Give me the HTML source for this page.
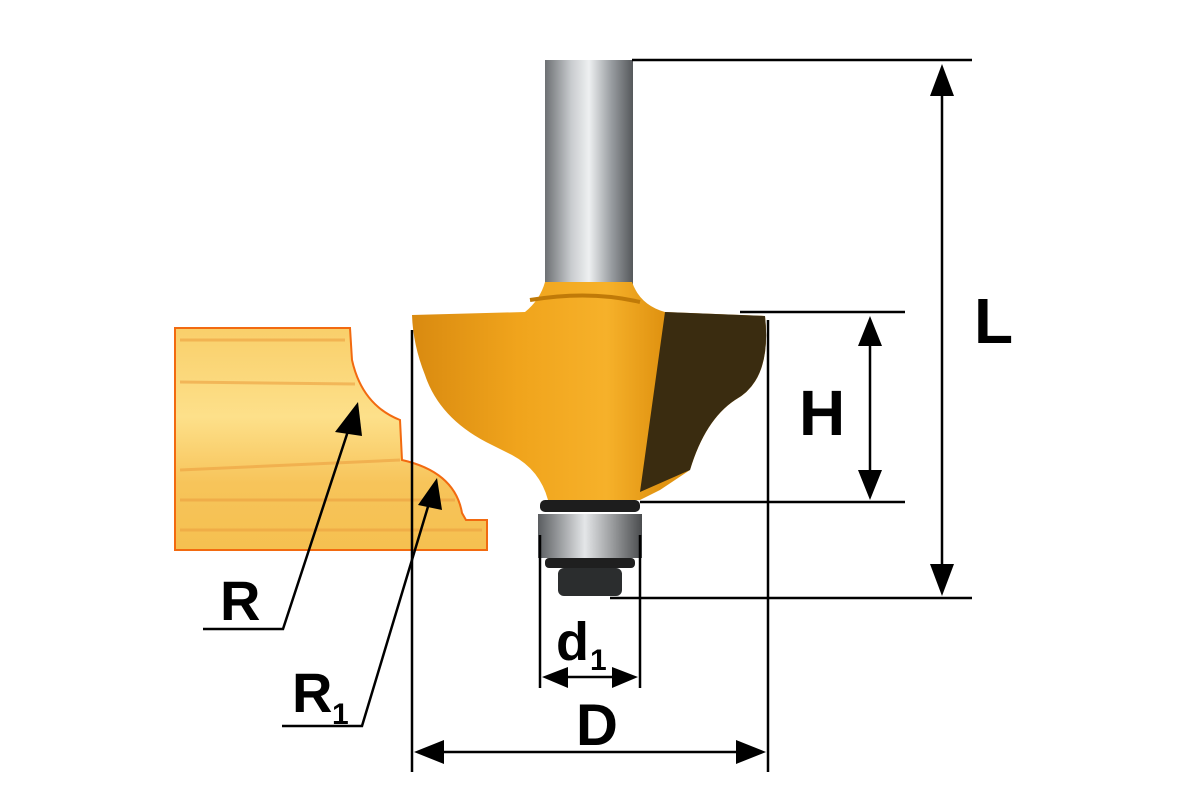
<!DOCTYPE html>
<html><head><meta charset="utf-8"><style>
html,body{margin:0;padding:0;background:#fff;}
svg{display:block;}
text{font-family:"Liberation Sans",Arial,sans-serif;font-weight:bold;fill:#000;}
</style></head><body>
<svg width="1200" height="800" viewBox="0 0 1200 800" xmlns="http://www.w3.org/2000/svg">
<defs>
<linearGradient id="shank" x1="0" x2="1" y1="0" y2="0">
<stop offset="0" stop-color="#6d7073"/><stop offset="0.3" stop-color="#c9cccf"/><stop offset="0.5" stop-color="#eef0f1"/><stop offset="0.75" stop-color="#9a9ea2"/><stop offset="1" stop-color="#55585b"/></linearGradient>
<linearGradient id="body" x1="0" x2="1" y1="0" y2="0">
<stop offset="0" stop-color="#d98a10"/><stop offset="0.3" stop-color="#f0a41c"/><stop offset="0.55" stop-color="#f6b12a"/><stop offset="0.7" stop-color="#e19412"/></linearGradient>
<linearGradient id="wood" x1="0" x2="0" y1="0" y2="1">
<stop offset="0" stop-color="#f9cf6a"/><stop offset="0.4" stop-color="#fde08a"/><stop offset="0.7" stop-color="#f7c45a"/><stop offset="1" stop-color="#f5c050"/></linearGradient>
<linearGradient id="bear" x1="0" x2="1"><stop offset="0" stop-color="#5a5d60"/><stop offset="0.45" stop-color="#e4e6e8"/><stop offset="1" stop-color="#4a4c4e"/></linearGradient>
</defs>
<path d="M175,328 L350,328 L352,360 Q362,405 400,420 L402,460 Q455,472 462,513 L466,520 L487,520 L487,550 L175,550 Z" fill="url(#wood)" stroke="#f26a10" stroke-width="2"/>
<g stroke="#eda040" stroke-width="3" opacity="0.6">
<line x1="180" y1="340" x2="345" y2="340"/><line x1="180" y1="382" x2="355" y2="384"/><line x1="180" y1="470" x2="400" y2="460"/><line x1="180" y1="500" x2="455" y2="500"/><line x1="180" y1="530" x2="482" y2="530"/></g>
<rect x="545" y="60" width="88" height="235" fill="url(#shank)"/>
<path d="M545,282 L632,282 Q640,305 665,312 L765,316 Q772,380 735,400 Q705,420 690,470 L660,490 L640,500 L548,500 Q540,470 512,455 L492,445 Q440,420 425,375 Q413,345 412,315 L525,312 Q540,300 545,282 Z" fill="url(#body)"/>
<path d="M665,312 L765,316 Q772,380 735,400 Q705,420 690,470 L640,492 Z" fill="#3a2c10"/>
<path d="M530,300 Q590,290 640,302" stroke="#c07a08" stroke-width="4" fill="none"/>
<rect x="540" y="500" width="100" height="12" rx="5" fill="#1d1d1d"/>
<rect x="538" y="514" width="104" height="44" fill="url(#bear)"/>
<rect x="545" y="558" width="90" height="10" rx="4" fill="#1f1f1f"/>
<rect x="558" y="568" width="64" height="28" rx="6" fill="#2b2d2e"/>
<g stroke="#000" stroke-width="2.5" fill="none">
<line x1="632" y1="60" x2="972" y2="60"/>
<line x1="942" y1="90" x2="942" y2="570"/>
<line x1="610" y1="598" x2="972" y2="598"/>
<line x1="740" y1="312" x2="905" y2="312"/>
<line x1="640" y1="502" x2="905" y2="502"/>
<line x1="870" y1="340" x2="870" y2="475"/>
<line x1="412" y1="330" x2="412" y2="772"/>
<line x1="768" y1="320" x2="768" y2="772"/>
<line x1="440" y1="752" x2="740" y2="752"/>
<line x1="540" y1="535" x2="540" y2="688"/>
<line x1="640" y1="535" x2="640" y2="688"/>
<line x1="560" y1="677" x2="620" y2="677"/>
<polyline points="203,629 283,629 350,425"/>
<polyline points="282,726 362,726 430,500"/>
</g>
<g fill="#000">
<polygon points="942,64 930,96 954,96"/>
<polygon points="942,596 930,564 954,564"/>
<polygon points="870,316 858,346 882,346"/>
<polygon points="870,500 858,470 882,470"/>
<polygon points="414,752 444,740 444,764"/>
<polygon points="766,752 736,740 736,764"/>
<polygon points="542,677 568,667 568,688"/>
<polygon points="638,677 612,667 612,688"/>
<polygon points="358,402 335,432 362,436"/>
<polygon points="437,478 418,505 442,510"/>
</g>
<text x="974" y="343" font-size="64">L</text>
<text x="799" y="435" font-size="64">H</text>
<text x="220" y="620" font-size="56">R</text>
<text x="292" y="712" font-size="56">R</text><text x="332" y="724" font-size="30">1</text>
<text x="556" y="660" font-size="54">d</text><text x="590" y="670" font-size="30">1</text>
<text x="576" y="745" font-size="58">D</text>
</svg>
</body></html>
